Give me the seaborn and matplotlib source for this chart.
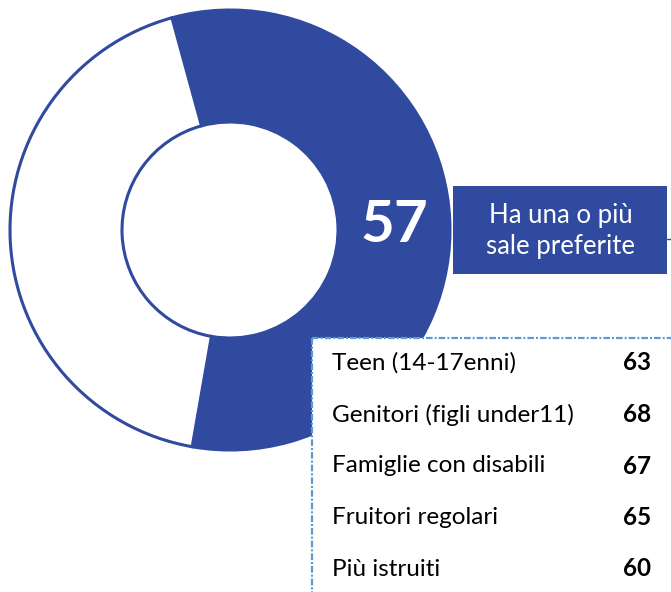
import numpy as np
import matplotlib
matplotlib.use("Agg")
import matplotlib.pyplot as plt
import seaborn as sns
from matplotlib.patches import Rectangle

# Share of respondents with one or more favourite cinemas
share = 57
headline = "Ha una o più\nsale preferite"

# Breakdown by target group
groups = ["Teen (14-17enni)", "Genitori (figli under11)", "Famiglie con disabili",
          "Fruitori regolari", "Più istruiti"]
group_values = [63, 68, 67, 65, 60]

sns.set_theme(style="white")
plt.rcParams["font.family"] = ["Lato", "DejaVu Sans"]

BLUE = "#2F4A9E"
LIGHT_BLUE = "#5B9BD5"

W, H = 671, 592
fig = plt.figure(figsize=(W / 100, H / 100), dpi=100)
fig.patch.set_facecolor("white")

# Donut
cx, cy, r_out, r_in = 230, 230, 220, 108
ax = fig.add_axes([(cx - r_out) / W, 1 - (cy + r_out) / H, 2 * r_out / W, 2 * r_out / H])
start = 105.3
wedges, _ = ax.pie([share, 100 - share], colors=[BLUE, "white"], startangle=start,
                   counterclock=False, radius=1,
                   wedgeprops=dict(width=1 - r_in / r_out, edgecolor=BLUE, linewidth=2.2))
for w in wedges:
    w.set_clip_on(False)
ax.set_xlim(-1, 1)
ax.set_ylim(-1, 1)
ax.set_aspect("equal")
ax.axis("off")

# Value label at the middle of the filled wedge
mid = np.deg2rad(start - share / 100 * 360 / 2)
rl = 0.75
ax.text(rl * np.cos(mid), rl * np.sin(mid) - 0.015, f"{share}", color="white",
        fontsize=42, fontweight="bold", ha="center", va="center")

# Overlay in pixel coordinates for the annotation boxes
ov = fig.add_axes([0, 0, 1, 1])
ov.set_xlim(0, W)
ov.set_ylim(H, 0)
ov.axis("off")
ov.patch.set_alpha(0)

# Headline box with leader line
ov.add_patch(Rectangle((453, 186), 214, 88, facecolor=BLUE, edgecolor="none"))
ov.plot([667, 671], [239, 239], color=BLUE, lw=1)
ov.text(561, 231, headline, color="white", fontsize=18.5, ha="center", va="center",
        linespacing=1.3)

# Breakdown table box
ov.add_patch(Rectangle((312, 338), 400, 300, facecolor="white", edgecolor=LIGHT_BLUE,
                       linewidth=1.6, linestyle=(0, (3, 0.9, 0.9, 0.9)), clip_on=True))
row_y0, row_step = 363, 51.5
for i, (g, v) in enumerate(zip(groups, group_values)):
    y = row_y0 + i * row_step
    ov.text(332, y, g, fontsize=17.5, color="black", ha="left", va="center")
    ov.text(651, y, f"{v}", fontsize=17.5, fontweight="bold", color="black",
            ha="right", va="center")

fig.savefig("out.png", dpi=100, facecolor="white")
